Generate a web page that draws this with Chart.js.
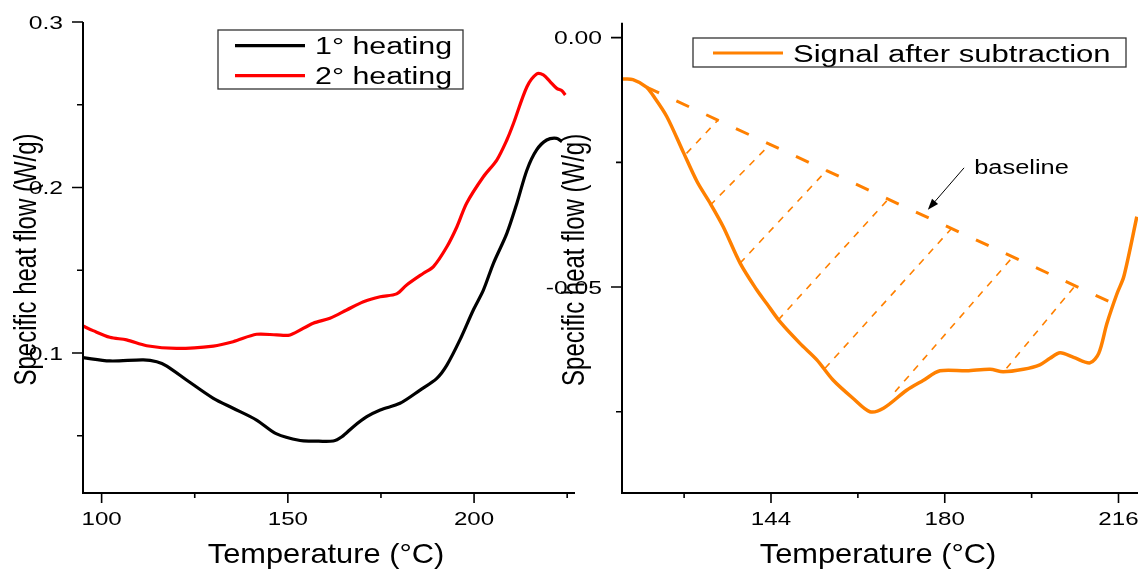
<!DOCTYPE html>
<html>
<head>
<meta charset="utf-8">
<script src="https://cdn.jsdelivr.net/npm/chart.js@4.4.0/dist/chart.umd.min.js"></script>
<style>
  html, body { margin: 0; padding: 0; background: #fff; }
  #wrap { position: relative; width: 1146px; height: 572px; }
  canvas { position: absolute; left: 0; top: 0; }
</style>
</head>
<body>
<div id="wrap">
  <canvas id="heating" width="1146" height="572"></canvas>
  <canvas id="subtracted" width="1146" height="572"></canvas>
</div>
<script>
// first and second heating scans (W/g vs °C)
const heat1Temp = [95, 102.2, 111.2, 114.8, 117.5, 122.8, 130, 135.3, 141.6, 147, 153.3, 156.8, 162.2, 164.5, 167.6, 171.2, 174.8, 180.1, 185.5, 190, 192.7, 196.2, 199.8, 202.5, 205.2, 208.8, 211.5, 214.2, 216.8, 219.5, 222.2, 223.6];
const heat1Flow = [0.0972, 0.0952, 0.0958, 0.0947, 0.0921, 0.0837, 0.0726, 0.0666, 0.0595, 0.0511, 0.0471, 0.0468, 0.0468, 0.0494, 0.0555, 0.0615, 0.0656, 0.0696, 0.0776, 0.0847, 0.0927, 0.1079, 0.126, 0.138, 0.1542, 0.1723, 0.1905, 0.2106, 0.2227, 0.2287, 0.2297, 0.2277];
const heat2Temp = [95, 97.7, 102.2, 106.7, 112.1, 120.1, 130, 135.3, 141.6, 147, 150.6, 156.8, 161.3, 165.8, 170.3, 174.8, 179.2, 181.9, 186.4, 189.1, 192.7, 195.4, 198, 202.5, 206.1, 208.8, 210.6, 214.2, 216.8, 218.6, 220.4, 222.2, 223.6, 224.5];
const heat2Flow = [0.1163, 0.1135, 0.1095, 0.1079, 0.1044, 0.1028, 0.1042, 0.1068, 0.1113, 0.1109, 0.1109, 0.118, 0.121, 0.126, 0.131, 0.134, 0.1357, 0.1411, 0.1482, 0.1522, 0.1642, 0.1763, 0.1905, 0.2065, 0.2166, 0.2287, 0.2388, 0.2609, 0.2686, 0.268, 0.264, 0.2599, 0.2585, 0.2559];

// heat flow left after subtracting the baseline
const signalTemp = [113.1, 115.4, 118.2, 119.5, 122.4, 125.8, 128.7, 131.4, 134.1, 137.6, 141, 143.1, 145.9, 150, 153.5, 156.9, 161.1, 164.5, 167.3, 172.1, 175.6, 179, 184.6, 189.4, 192.1, 196.3, 199.7, 201.8, 203.9, 206.7, 210.1, 211.9, 213.6, 215.7, 217.1, 219.8];
const signalFlow = [-0.0083, -0.0084, -0.0099, -0.0115, -0.0158, -0.0229, -0.0289, -0.0332, -0.0379, -0.0452, -0.0505, -0.0533, -0.057, -0.0613, -0.0646, -0.0687, -0.0724, -0.075, -0.0743, -0.0707, -0.0687, -0.0668, -0.0668, -0.0665, -0.067, -0.0665, -0.0656, -0.0643, -0.0632, -0.0641, -0.0652, -0.0633, -0.0573, -0.0513, -0.0479, -0.0359];
const baselineTemp = [118.2, 214.9];
const baselineFlow = [-0.0099, -0.0533];

// drop lines from the baseline down to the signal
const dropFromTemp = [133.0, 143.8, 155.5, 168.3, 181.4, 194.1, 207.0];
const dropToTemp = [126.5, 131.4, 137.6, 145.5, 155.2, 169.7, 192.8];
const dropToFlow = [-0.0232, -0.0336, -0.0452, -0.0566, -0.0663, -0.0710, -0.0663];

// axis ticks
const leftXTicks = [100, 150, 200];
const leftXMinor = [125, 175, 225];
const leftYTicks = [0.1, 0.2, 0.3];
const leftYLabels = ['0.1', '0.2', '0.3'];
const leftYMinor = [0.05, 0.15, 0.25];
const rightXTicks = [144, 180, 216];
const rightXMinor = [126, 162, 198];
const rightYTicks = [0, -0.05];
const rightYLabels = ['0.00', '-0.05'];
const rightYMinor = [-0.025, -0.075];

const FONT = '"Liberation Sans", Arial, sans-serif';
const ORANGE = '#ff8000';

function text(ctx, str, x, y, size, sx, align) {
  ctx.save();
  ctx.translate(x, y);
  ctx.scale(sx, 1);
  ctx.font = size + 'px ' + FONT;
  ctx.textAlign = align;
  ctx.textBaseline = 'alphabetic';
  ctx.fillStyle = '#000';
  ctx.fillText(str, 0, 0);
  ctx.restore();
}

function series(xs, ys, color, width, dash) {
  return {
    data: xs.map((t, i) => ({ x: t, y: ys[i] })),
    borderColor: color,
    borderWidth: width,
    borderDash: dash || [],
    pointRadius: 0,
    fill: false,
    tension: 0.3
  };
}

function baselineAt(t) {
  const f = (t - baselineTemp[0]) / (baselineTemp[1] - baselineTemp[0]);
  return baselineFlow[0] + f * (baselineFlow[1] - baselineFlow[0]);
}

// axis lines, tick marks, tick labels and titles
function axesPlugin(o) {
  return {
    id: 'axes',
    afterDatasetsDraw(chart) {
      const { ctx, chartArea: a, scales: { x, y } } = chart;
      ctx.save();
      ctx.strokeStyle = '#000';
      ctx.lineWidth = 2;
      ctx.beginPath();
      ctx.moveTo(a.left, a.top);
      ctx.lineTo(a.left, a.bottom);
      ctx.lineTo(a.right, a.bottom);
      ctx.stroke();

      ctx.lineWidth = 1.6;
      ctx.beginPath();
      o.xTicks.forEach(v => { const p = x.getPixelForValue(v); ctx.moveTo(p, a.bottom); ctx.lineTo(p, a.bottom + 10); });
      o.xMinor.forEach(v => { const p = x.getPixelForValue(v); ctx.moveTo(p, a.bottom); ctx.lineTo(p, a.bottom + 5); });
      o.yTicks.forEach(v => { const p = y.getPixelForValue(v); ctx.moveTo(a.left, p); ctx.lineTo(a.left - 11, p); });
      o.yMinor.forEach(v => { const p = y.getPixelForValue(v); ctx.moveTo(a.left, p); ctx.lineTo(a.left - 6, p); });
      ctx.stroke();

      o.xTicks.forEach(v => text(ctx, String(v), x.getPixelForValue(v), a.bottom + 32, 19, 1.27, 'center'));
      o.yTicks.forEach((v, i) => text(ctx, o.yLabels[i], a.left - 20, y.getPixelForValue(v) + 6.8, 19, 1.3, 'right'));

      text(ctx, 'Temperature (°C)', o.xTitleX, 563, 28, 1.1, 'center');

      ctx.save();
      ctx.translate(o.yTitleX, (a.top + a.bottom) / 2 + 2);
      ctx.rotate(-Math.PI / 2);
      ctx.scale(1, 1.3);
      ctx.font = '24px ' + FONT;
      ctx.textAlign = 'center';
      ctx.textBaseline = 'alphabetic';
      ctx.fillStyle = '#000';
      ctx.fillText('Specific heat flow (W/g)', 0, 0);
      ctx.restore();
      ctx.restore();
    }
  };
}

// boxed legend
function legendPlugin(o) {
  return {
    id: 'boxLegend',
    afterDraw(chart) {
      const ctx = chart.ctx;
      ctx.save();
      ctx.strokeStyle = '#333';
      ctx.lineWidth = 1.3;
      ctx.strokeRect(o.box[0], o.box[1], o.box[2], o.box[3]);
      o.items.forEach(it => {
        ctx.strokeStyle = it.color;
        ctx.lineWidth = 3.2;
        ctx.beginPath();
        ctx.moveTo(o.lineX[0], it.y);
        ctx.lineTo(o.lineX[1], it.y);
        ctx.stroke();
        text(ctx, it.label, o.textX, it.y + 8.5, 23, o.sx, 'left');
      });
      ctx.restore();
    }
  };
}

// arrow pointing at the baseline
const baselineNote = {
  id: 'baselineNote',
  afterDraw(chart) {
    const { ctx, scales: { x, y } } = chart;
    const x0 = x.getPixelForValue(184.0), y0 = y.getPixelForValue(-0.0261);
    const x1 = x.getPixelForValue(176.5), y1 = y.getPixelForValue(-0.0345);
    const ang = Math.atan2(y1 - y0, x1 - x0);
    ctx.save();
    ctx.strokeStyle = '#000';
    ctx.fillStyle = '#000';
    ctx.lineWidth = 1;
    ctx.beginPath();
    ctx.moveTo(x0, y0);
    ctx.lineTo(x1 - 8 * Math.cos(ang), y1 - 8 * Math.sin(ang));
    ctx.stroke();
    ctx.beginPath();
    ctx.moveTo(x1, y1);
    ctx.lineTo(x1 - 11 * Math.cos(ang) + 4 * Math.sin(ang), y1 - 11 * Math.sin(ang) - 4 * Math.cos(ang));
    ctx.lineTo(x1 - 11 * Math.cos(ang) - 4 * Math.sin(ang), y1 - 11 * Math.sin(ang) + 4 * Math.cos(ang));
    ctx.closePath();
    ctx.fill();
    ctx.restore();
    text(ctx, 'baseline', x.getPixelForValue(186.1), y.getPixelForValue(-0.0273), 20, 1.27, 'left');
  }
};

new Chart(document.getElementById('heating'), {
  type: 'line',
  data: {
    datasets: [
      series(heat1Temp, heat1Flow, '#000000', 3.2),
      series(heat2Temp, heat2Flow, '#ff0000', 3.2)
    ]
  },
  options: {
    responsive: false,
    animation: false,
    devicePixelRatio: 1,
    layout: { padding: { left: 83, right: 571, top: 22, bottom: 79 } },
    plugins: { legend: { display: false }, tooltip: { enabled: false } },
    scales: {
      x: { type: 'linear', display: false, min: 95, max: 227.1 },
      y: { type: 'linear', display: false, min: 0.0154, max: 0.3 }
    }
  },
  plugins: [
    axesPlugin({ xTicks: leftXTicks, xMinor: leftXMinor, yTicks: leftYTicks, yLabels: leftYLabels, yMinor: leftYMinor, xTitleX: 326, yTitleX: 35.5 }),
    legendPlugin({ box: [218, 30, 245, 59], lineX: [235, 305], textX: 315, sx: 1.32,
      items: [{ label: '1° heating', color: '#000000', y: 45.7 }, { label: '2° heating', color: '#ff0000', y: 75.7 }] })
  ]
});

const drops = dropFromTemp.map((t, i) =>
  series([dropToTemp[i], t], [dropToFlow[i], baselineAt(t)], ORANGE, 1.6, [7, 7]));

new Chart(document.getElementById('subtracted'), {
  type: 'line',
  data: {
    datasets: [
      series(signalTemp, signalFlow, ORANGE, 3.5),
      series(baselineTemp, baselineFlow, ORANGE, 3, [14, 19]),
      ...drops
    ]
  },
  options: {
    responsive: false,
    animation: false,
    devicePixelRatio: 1,
    layout: { padding: { left: 622, right: 8, top: 22.7, bottom: 79 } },
    plugins: { legend: { display: false }, tooltip: { enabled: false } },
    scales: {
      x: { type: 'linear', display: false, min: 113.13, max: 220.04 },
      y: { type: 'linear', display: false, min: -0.0913, max: 0.003 }
    }
  },
  plugins: [
    axesPlugin({ xTicks: rightXTicks, xMinor: rightXMinor, yTicks: rightYTicks, yLabels: rightYLabels, yMinor: rightYMinor, xTitleX: 878, yTitleX: 584 }),
    legendPlugin({ box: [693, 38, 433, 29], lineX: [713, 783], textX: 793, sx: 1.35,
      items: [{ label: 'Signal after subtraction', color: ORANGE, y: 53 }] }),
    baselineNote
  ]
});
</script>
</body>
</html>
